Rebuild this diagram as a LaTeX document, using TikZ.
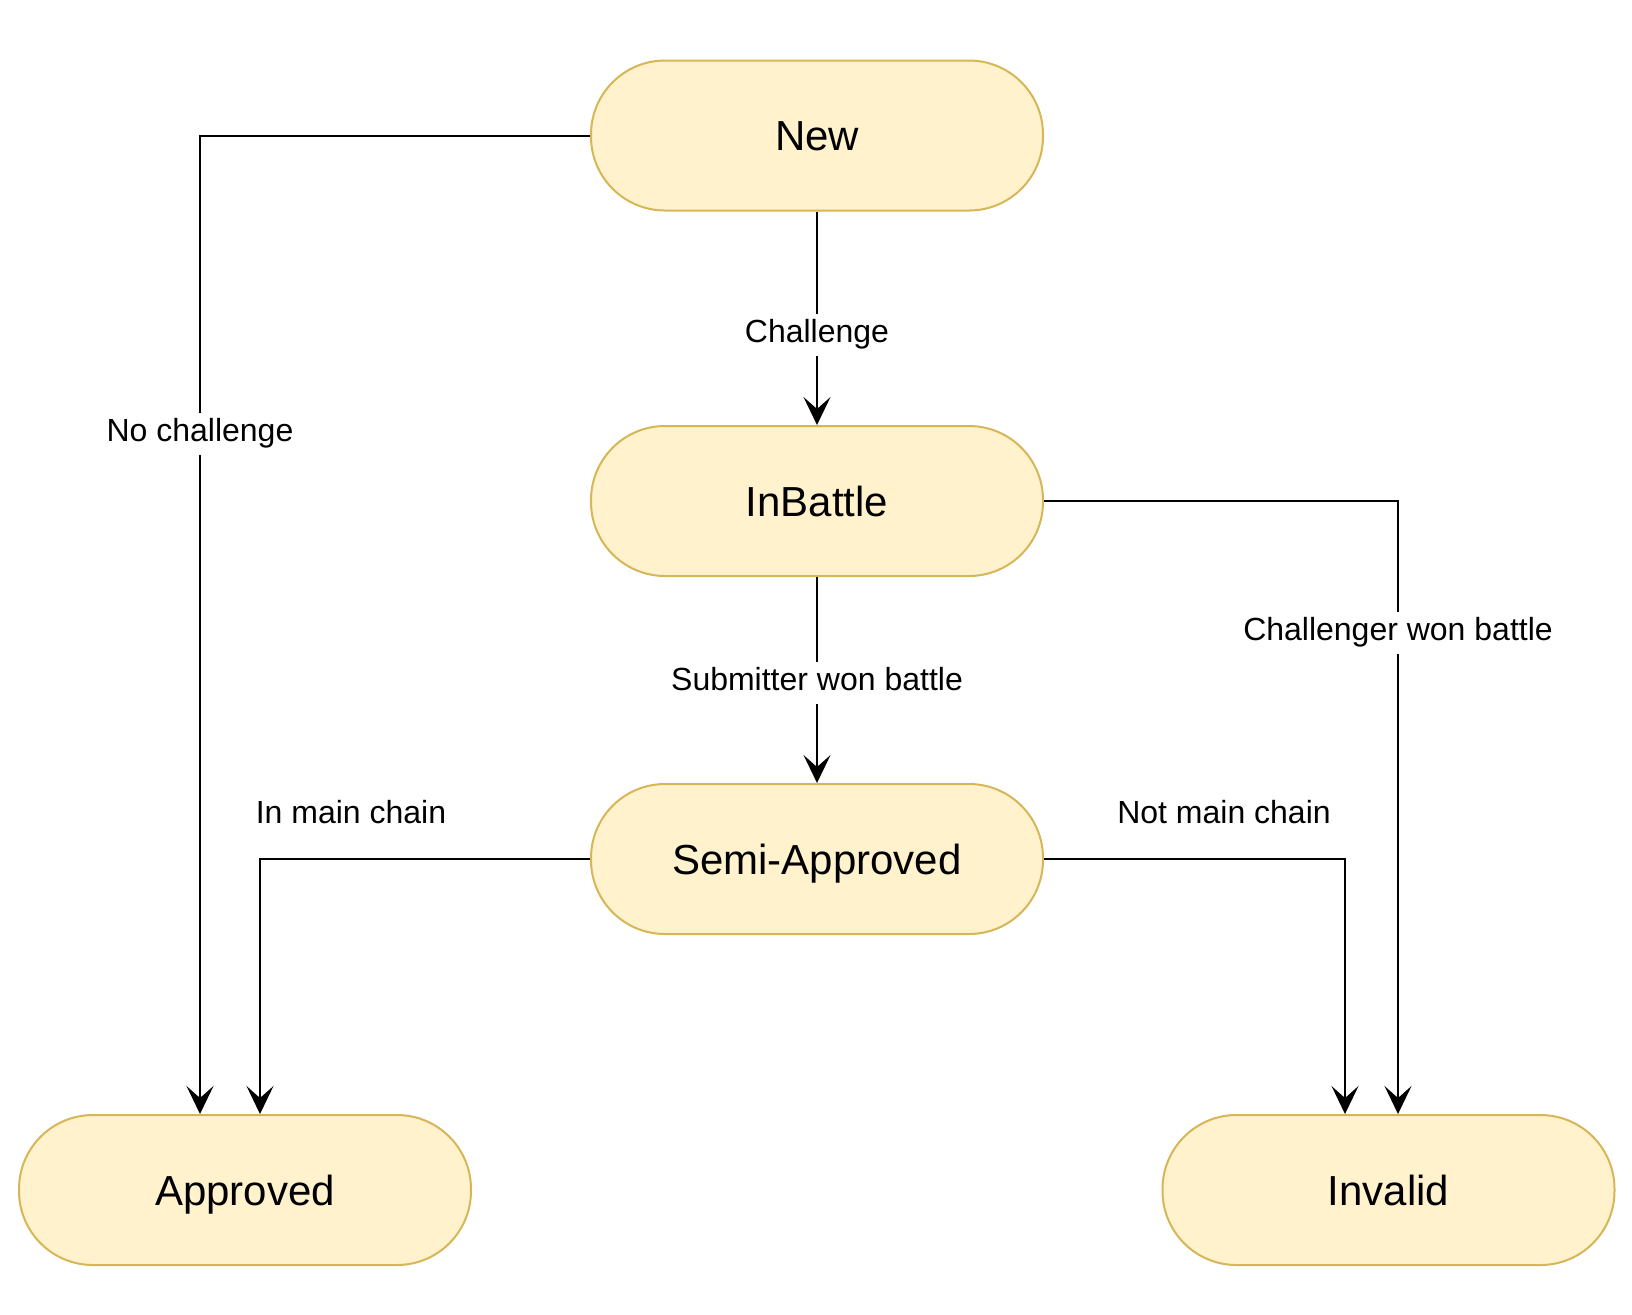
\documentclass[tikz,border=0pt]{standalone}
\usepackage{fontspec}
\setmainfont{Liberation Sans}
\usetikzlibrary{arrows.meta}
\definecolor{boxfill}{HTML}{FFF2CC}
\definecolor{boxline}{HTML}{D6B656}
\tikzset{
  state/.style={draw=boxline, fill=boxfill, line width=1pt, rounded corners=37pt,
    minimum width=226pt, minimum height=75pt, inner sep=0pt, text height=15pt, text depth=0pt,
    font=\fontsize{21pt}{25pt}\selectfont},
  conn/.style={draw=black, line width=1pt, -{Stealth[length=14pt,width=13.5pt,inset=6pt]}},
  lbl/.style={fill=white, inner xsep=1.5pt, inner ysep=3pt, text height=11.5pt, text depth=3.5pt,
    font=\fontsize{16pt}{19pt}\selectfont},
  freelbl/.style={inner sep=0pt, text height=11.5pt, text depth=0pt, font=\fontsize{16pt}{19pt}\selectfont}
}
\begin{document}
\begin{tikzpicture}[x=0.5pt, y=-0.5pt]
\useasboundingbox (0,0) rectangle (1632,1314);
\node[state] (new) at (817,135.5) {New};
\node[state] (battle) at (817,501) {InBattle};
\node[state] (semi) at (817,859) {Semi-Approved};
\node[state] (appr) at (245,1190) {Approved};
\node[state] (inv) at (1388.5,1190) {Invalid};

\coordinate (c1) at (200,135.5);
\coordinate (c2) at (1398,501);
\coordinate (c3) at (260,859);
\coordinate (c4) at (1345,859);

\draw[conn] (new.west) -- (c1) -- (c1 |- appr.north);
\draw[conn] (new.south) -- (battle.north);
\draw[conn] (battle.east) -- (c2) -- (c2 |- inv.north);
\draw[conn] (battle.south) -- (semi.north);
\draw[conn] (semi.west) -- (c3) -- (c3 |- appr.north);
\draw[conn] (semi.east) -- (c4) -- (c4 |- inv.north);

\node[lbl] (lnc) at (200,433.5) {No challenge};
\node[lbl] (lch) at (817,334.5) {Challenge};
\node[lbl] (lcwb) at (1398,632.5) {Challenger won battle};
\node[lbl] (lswb) at (817,682.5) {Submitter won battle};
\node[freelbl] (limc) at (351,812) {In main chain};
\node[freelbl] (lnmc) at (1224,812) {Not main chain};
\end{tikzpicture}
\end{document}
